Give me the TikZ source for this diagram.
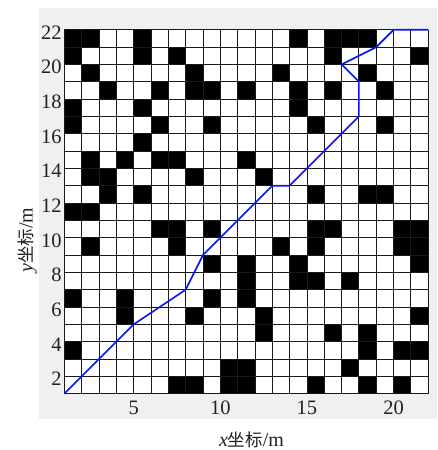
\documentclass[tikz,border=0pt]{standalone}
\usepackage{fontspec}
\setmainfont{Liberation Serif}
\newfontfamily\cjkfam{Noto Sans CJK SC}
\newcommand\mycjk[1]{{\cjkfam\fontsize{17.5}{20}\selectfont #1}}
\definecolor{panelgray}{HTML}{F0F0F0}
\definecolor{routeblue}{HTML}{0A14F5}
\definecolor{labgray}{HTML}{222222}
\tikzset{
  obst/.style={fill=black},
  gridline/.style={draw=black!90, line width=0.9pt},
  route/.style={draw=routeblue, line width=1.6pt, line join=round},
  ticklab/.style={font=\fontsize{20.5}{24}\selectfont, inner sep=0pt, text=labgray},
  axlab/.style={font=\fontsize{20}{24}\selectfont, inner sep=0pt, text=labgray}
}
\begin{document}
\begin{tikzpicture}[x=1pt,y=1pt]
\useasboundingbox (0,0) rectangle (438,450);
\fill[white] (0,0) rectangle (438,450);
\fill[panelgray] (39,31) rectangle (437,442);
\begin{scope}[shift={(47pt,38.97pt)}, x=17.33pt, y=17.33pt]
  \fill[white] (1,1) rectangle (22,22);
  \foreach \c/\r in {
    1/21,2/21,5/21,14/21,16/21,17/21,18/21,
    1/20,5/20,7/20,16/20,21/20,
    2/19,8/19,13/19,18/19,
    3/18,6/18,8/18,9/18,11/18,14/18,16/18,19/18,
    1/17,5/17,14/17,
    1/16,6/16,9/16,15/16,19/16,
    5/15,
    2/14,4/14,6/14,7/14,11/14,
    2/13,3/13,8/13,12/13,
    3/12,5/12,15/12,18/12,19/12,
    1/11,2/11,
    6/10,7/10,9/10,15/10,16/10,20/10,21/10,
    2/9,7/9,13/9,15/9,20/9,21/9,
    9/8,11/8,14/8,21/8,
    11/7,14/7,15/7,17/7,
    1/6,4/6,9/6,11/6,
    4/5,8/5,12/5,21/5,
    12/4,16/4,18/4,
    1/3,18/3,20/3,21/3,
    10/2,11/2,17/2,
    7/1,8/1,10/1,11/1,15/1,18/1,20/1}
    \fill[obst] (\c,\r) rectangle ++(1,1);
  \foreach \k in {1,...,22} {
    \draw[gridline] (\k,1) -- (\k,22);
    \draw[gridline] (1,\k) -- (22,\k);
  }
  \coordinate (p0) at (1,1);
  \coordinate (p1) at (5,5);
  \coordinate (p2) at (8,7);
  \coordinate (p3) at (9,9);
  \coordinate (p4) at (13,13);
  \coordinate (p5) at (14,13);
  \coordinate (p6) at (18,17);
  \coordinate (p7) at (18,19);
  \coordinate (p8) at (17,20);
  \coordinate (p9) at (19,21);
  \coordinate (p10) at (20,22);
  \coordinate (p11) at (22,22);
  \draw[route] (p0) -- (p1) -- (p2) -- (p3) -- (p4) -- (p5) -- (p6) -- (p7) -- (p8) -- (p9) -- (p10) -- (p11);
  \foreach \k in {5,10,15,20}
    \node[ticklab, anchor=base, yshift=-21.3pt] (xt\k) at (\k,1) {\k};
  \foreach \k in {2,4,...,22}
    \node[ticklab, anchor=base east, xshift=-2.6pt, yshift=-9.5pt] (yt\k) at (1,\k) {\k};
\end{scope}
\node[axlab, anchor=base] (xlab) at (251.5,4) {\textit{x}\mycjk{坐标}/m};
\node[axlab, anchor=base, rotate=90] (ylab) at (32.5,210) {\textit{y}\mycjk{坐标}/m};
\end{tikzpicture}
\end{document}
